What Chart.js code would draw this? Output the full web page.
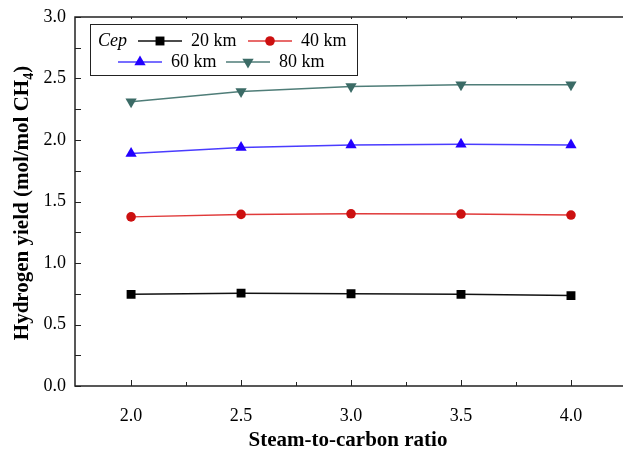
<!DOCTYPE html>
<html>
<head>
<meta charset="utf-8">
<script src="https://cdn.jsdelivr.net/npm/chart.js@4.4.1/dist/chart.umd.min.js"></script>
<style>
  body { margin: 0; background: #fff; }
  #wrap { width: 623px; height: 453px; }
</style>
</head>
<body>
<div id="wrap"><canvas id="chart" width="623" height="453"></canvas></div>
<script>
// данные
const ratios = [2.0, 2.5, 3.0, 3.5, 4.0];
const yield20 = [0.745, 0.755, 0.75, 0.745, 0.735];
const yield40 = [1.375, 1.395, 1.40, 1.398, 1.39];
const yield60 = [1.89, 1.94, 1.96, 1.965, 1.96];
const yield80 = [2.31, 2.395, 2.435, 2.45, 2.45];
const seriesLabels = ['20 km', '40 km', '60 km', '80 km'];
const xTicks = [2.0, 2.5, 3.0, 3.5, 4.0];
const yTicks = [0.0, 0.5, 1.0, 1.5, 2.0, 2.5, 3.0];

const FONT = '"Liberation Serif", "Times New Roman", serif';
const AXIS = '#222';

function toPoints(values) {
  return values.map((v, i) => ({ x: ratios[i], y: v }));
}

const styles = [
  { line: '#111111', point: '#000000', pointStyle: 'rect', radius: 6.3, rotation: 0 },
  { line: '#e03a3a', point: '#cc1010', pointStyle: 'circle', radius: 4.8, rotation: 0 },
  { line: '#4a3cff', point: '#2200ff', pointStyle: 'triangle', radius: 6.5, rotation: 0 },
  { line: '#4f7d78', point: '#3b6b66', pointStyle: 'triangle', radius: 6.5, rotation: 180 },
];

const datasets = [yield20, yield40, yield60, yield80].map((vals, i) => ({
  label: seriesLabels[i],
  data: toPoints(vals),
  borderColor: styles[i].line,
  backgroundColor: styles[i].point,
  pointBackgroundColor: styles[i].point,
  pointBorderColor: styles[i].point,
  pointBorderWidth: 0,
  pointStyle: styles[i].pointStyle,
  pointRadius: styles[i].radius,
  pointRotation: styles[i].rotation,
  borderWidth: 1.5,
  tension: 0,
}));

// оси: рамка сверху, слева и снизу, засечки внутрь, подписи осей
const axisDecor = {
  id: 'axisDecor',
  afterDraw(chart) {
    const { ctx, chartArea: a, scales: { x, y } } = chart;
    ctx.save();
    ctx.strokeStyle = AXIS;
    ctx.lineWidth = 1.5;
    ctx.beginPath();
    ctx.moveTo(chart.width, a.top);
    ctx.lineTo(a.left, a.top);
    ctx.lineTo(a.left, a.bottom);
    ctx.lineTo(chart.width, a.bottom);
    ctx.stroke();

    ctx.lineWidth = 1;
    ctx.beginPath();
    for (let v = 0; v <= 3.0001; v += 0.25) {
      const py = Math.round(y.getPixelForValue(v)) + 0.5;
      ctx.moveTo(a.left, py);
      ctx.lineTo(a.left + 6, py);
    }
    for (let v = 2.0; v <= 4.0001; v += 0.25) {
      const px = Math.round(x.getPixelForValue(v)) + 0.5;
      const len = Math.abs(v * 2 - Math.round(v * 2)) < 0.01 ? 6 : 4;
      ctx.moveTo(px, a.bottom);
      ctx.lineTo(px, a.bottom - len);
      ctx.moveTo(px, a.top);
      ctx.lineTo(px, a.top + 2);
    }
    ctx.stroke();

    // подпись оси X
    ctx.fillStyle = '#000';
    ctx.font = 'bold 21px ' + FONT;
    ctx.textAlign = 'center';
    ctx.textBaseline = 'middle';
    ctx.fillText('Steam-to-carbon ratio', 348, 441);

    // подпись оси Y с нижним индексом
    const parts = [
      { t: 'Hydrogen yield (mol/mol CH', size: 21, dy: 0 },
      { t: '4', size: 14, dy: 5 },
      { t: ')', size: 21, dy: 0 },
    ];
    let total = 0;
    parts.forEach((p) => {
      ctx.font = 'bold ' + p.size + 'px ' + FONT;
      p.w = ctx.measureText(p.t).width;
      total += p.w;
    });
    ctx.translate(21, 203);
    ctx.rotate(-Math.PI / 2);
    ctx.textAlign = 'left';
    ctx.textBaseline = 'alphabetic';
    let cx = -total / 2;
    parts.forEach((p) => {
      ctx.font = 'bold ' + p.size + 'px ' + FONT;
      ctx.fillText(p.t, cx, 7 + p.dy);
      cx += p.w;
    });
    ctx.restore();
  },
};

// легенда в рамке, как на рисунке
const boxLegend = {
  id: 'boxLegend',
  afterDraw(chart) {
    const { ctx } = chart;
    ctx.save();
    ctx.strokeStyle = AXIS;
    ctx.lineWidth = 1;
    ctx.strokeRect(90.5, 24.5, 267, 51);

    ctx.fillStyle = '#000';
    ctx.textBaseline = 'middle';
    ctx.textAlign = 'left';
    ctx.font = 'italic 18px ' + FONT;
    ctx.fillText('Cep', 98, 41);

    const rows = [
      { i: 0, x0: 138, y: 41 },
      { i: 1, x0: 248, y: 41 },
      { i: 2, x0: 118, y: 62 },
      { i: 3, x0: 226, y: 62 },
    ];
    rows.forEach((r) => {
      const ds = chart.data.datasets[r.i];
      ctx.strokeStyle = ds.borderColor;
      ctx.lineWidth = 1.5;
      ctx.beginPath();
      ctx.moveTo(r.x0, r.y);
      ctx.lineTo(r.x0 + 44, r.y);
      ctx.stroke();
      ctx.fillStyle = ds.pointBackgroundColor;
      Chart.helpers.drawPoint(ctx, {
        pointStyle: ds.pointStyle,
        radius: ds.pointRadius,
        rotation: ds.pointRotation,
        borderWidth: 0,
      }, r.x0 + 22, r.y);
      ctx.fillStyle = '#000';
      ctx.font = '18px ' + FONT;
      ctx.fillText(ds.label, r.x0 + 53, r.y);
    });
    ctx.restore();
  },
};

new Chart(document.getElementById('chart'), {
  type: 'line',
  data: { datasets },
  options: {
    responsive: false,
    animation: false,
    layout: { padding: { top: 17, left: 0, right: 0, bottom: 0 } },
    plugins: {
      legend: { display: false },
      tooltip: { enabled: false },
    },
    scales: {
      x: {
        type: 'linear',
        min: 1.745,
        max: 4.207,
        afterFit: (s) => {
          s.height = 67;
          s.paddingLeft = 0;
          s.paddingRight = 0;
        },
        afterBuildTicks: (s) => { s.ticks = xTicks.map((v) => ({ value: v })); },
        grid: { display: false, drawTicks: false },
        border: { display: false },
        ticks: {
          padding: 19,
          color: '#000',
          font: { family: FONT, size: 18 },
          maxRotation: 0,
          callback: (v) => v.toFixed(1),
        },
      },
      y: {
        min: 0,
        max: 3,
        afterFit: (s) => {
          s.width = 75;
          s.paddingTop = 0;
          s.paddingBottom = 0;
        },
        afterBuildTicks: (s) => { s.ticks = yTicks.map((v) => ({ value: v })); },
        grid: { display: false, drawTicks: false },
        border: { display: false },
        ticks: {
          padding: 9,
          color: '#000',
          font: { family: FONT, size: 18 },
          callback: (v) => v.toFixed(1),
        },
      },
    },
  },
  plugins: [axisDecor, boxLegend],
});
</script>
</body>
</html>
